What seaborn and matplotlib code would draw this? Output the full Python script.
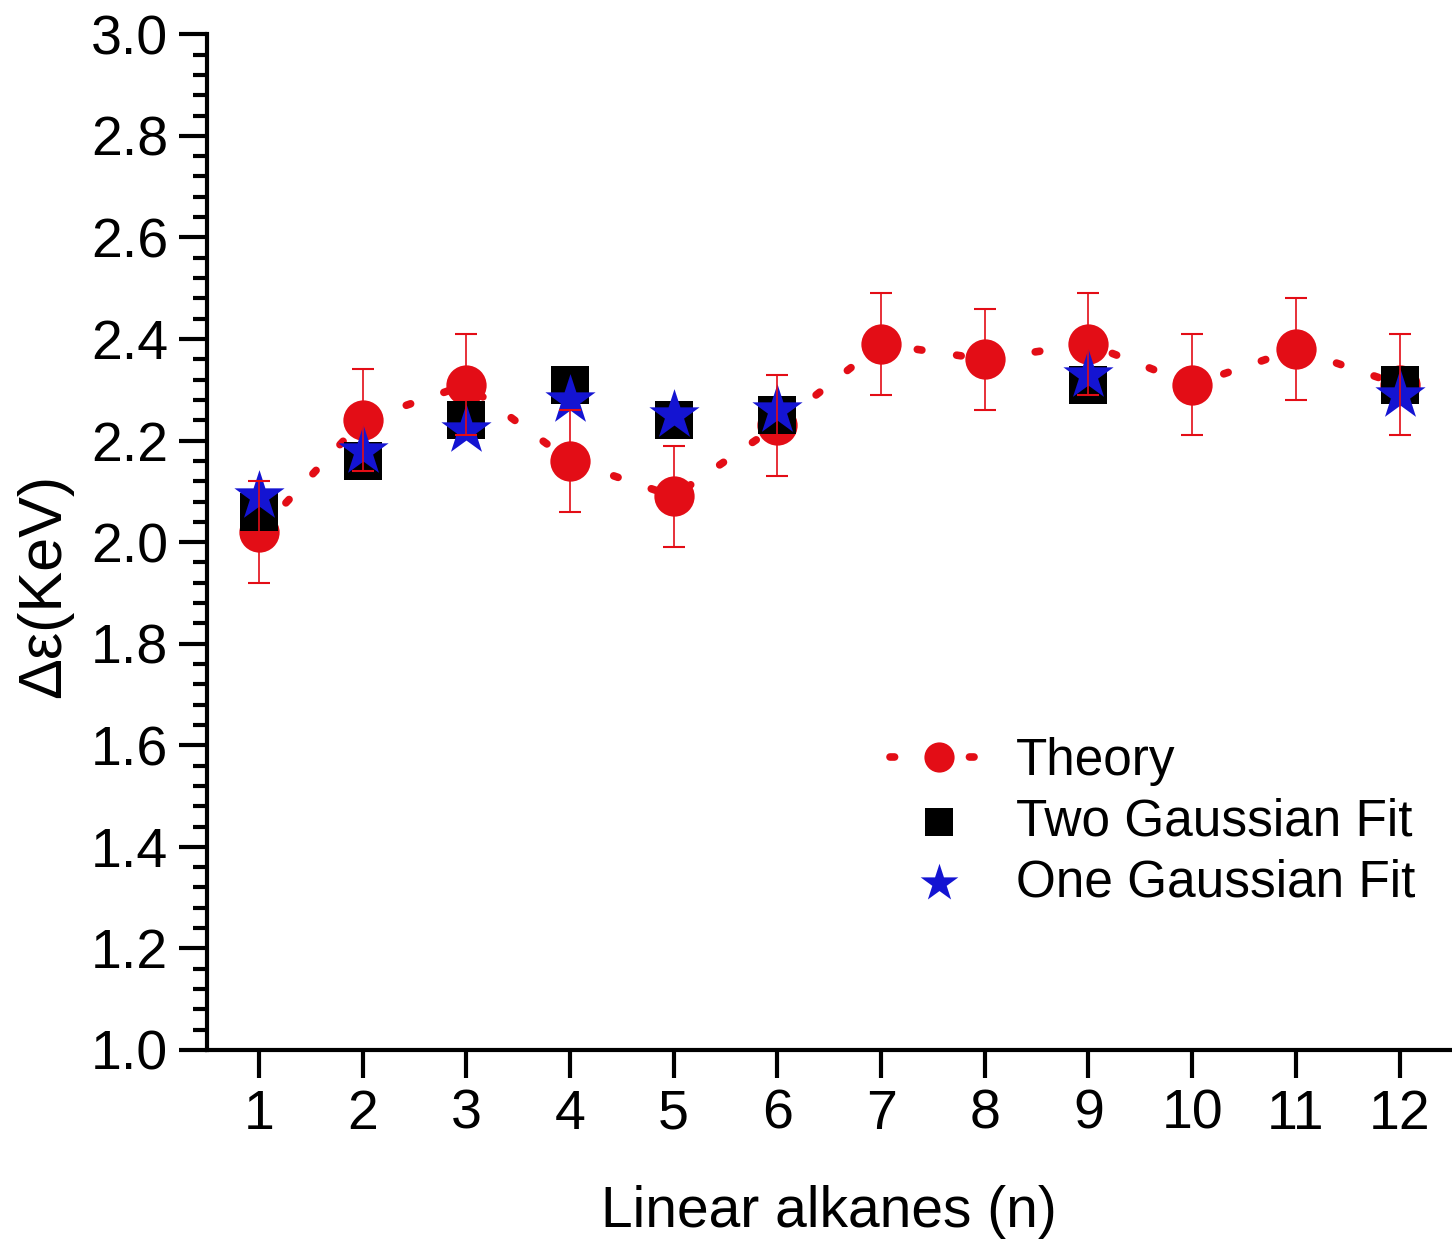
import matplotlib
matplotlib.use("Agg")
import matplotlib.pyplot as plt
import seaborn as sns
from matplotlib.ticker import MultipleLocator, AutoMinorLocator

sns.set_theme(style="ticks")
plt.rcParams['font.family'] = ['Liberation Sans', 'DejaVu Sans']

# carbon number of the alkane
n_theory = [1, 2, 3, 4, 5, 6, 7, 8, 9, 10, 11, 12]
theory = [2.02, 2.24, 2.31, 2.16, 2.09, 2.23, 2.39, 2.36, 2.39, 2.31, 2.38, 2.31]
theory_err = [0.1] * 12

n_fit = [1, 2, 3, 4, 5, 6, 9, 12]
two_gauss = [2.06, 2.16, 2.24, 2.31, 2.24, 2.25, 2.31, 2.31]
one_gauss = [2.09, 2.18, 2.22, 2.28, 2.25, 2.26, 2.33, 2.29]

red = '#e30d16'
blue = '#1414d2'

fig = plt.figure(figsize=(14.52, 12.47), dpi=100)
ax = fig.add_axes([0.1426, 0.158, 0.857, 0.8145])

sns.lineplot(x=n_theory, y=theory, ax=ax, color=red, marker='o', markersize=29,
             markeredgewidth=0, linewidth=5.5, linestyle=(0, (0.6, 4.6)),
             dash_capstyle='round', label='Theory', zorder=2)
sns.scatterplot(x=n_fit, y=two_gauss, ax=ax, color='black', marker='s', s=27**2,
                linewidth=0, label='Two Gaussian Fit', zorder=3)
sns.scatterplot(x=n_fit, y=one_gauss, ax=ax, color=blue, marker='*', s=38**2,
                linewidth=0, label='One Gaussian Fit', zorder=4)
ax.errorbar(n_theory, theory, yerr=theory_err, fmt='none', ecolor=red,
            elinewidth=1.2, capsize=8, capthick=1.5, zorder=5)

ax.set_xlim(0.5, 12.5)
ax.set_ylim(1.0, 3.0)
ax.xaxis.set_major_locator(MultipleLocator(1))
ax.yaxis.set_major_locator(MultipleLocator(0.2))
ax.yaxis.set_minor_locator(AutoMinorLocator(5))
ax.set_yticklabels([f'{v:.1f}' for v in ax.get_yticks()])

sns.despine(ax=ax)
for side in ['left', 'bottom']:
    ax.spines[side].set_linewidth(3)
    ax.spines[side].set_color('black')
ax.tick_params(axis='both', which='major', direction='out', length=20, width=3,
               labelsize=40, color='black', labelcolor='black', pad=8)
ax.tick_params(axis='y', which='minor', direction='out', length=10, width=3, color='black')

ax.set_xlabel('Linear alkanes (n)', fontsize=41, color='black', labelpad=32)
ax.set_ylabel('Δε(KeV)', fontsize=44, color='black')
ax.yaxis.set_label_coords(-0.108, 0.457)

leg = ax.legend(loc='upper left', bbox_to_anchor=(0.528, 0.333), frameon=False,
                fontsize=37, handlelength=1.9, handletextpad=0.55, labelspacing=0.22,
                borderpad=0, markerscale=0.75)
for t in leg.get_texts():
    t.set_color('black')

fig.savefig('out.png', dpi=100, facecolor='white')
